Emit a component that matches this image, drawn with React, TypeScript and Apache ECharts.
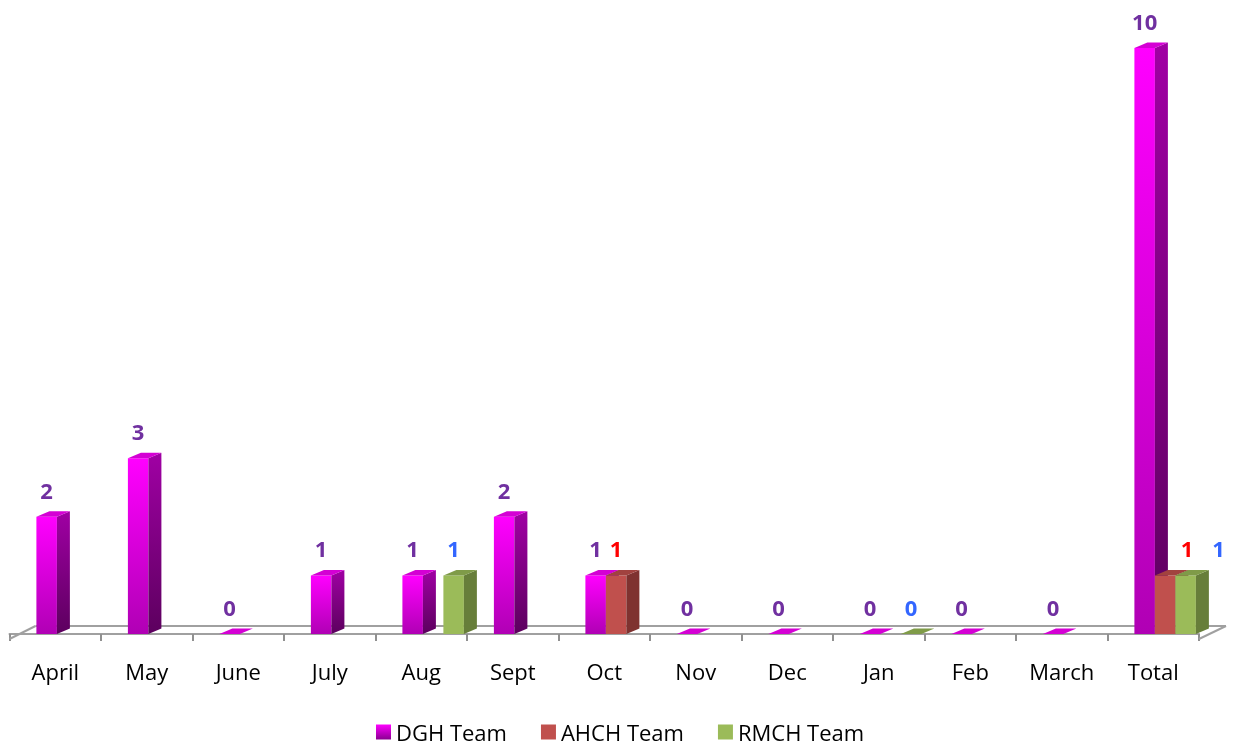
import React, { useEffect, useRef } from "react";
import * as echarts from "echarts";

const categories = ["April", "May", "June", "July", "Aug", "Sept", "Oct", "Nov", "Dec", "Jan", "Feb", "March", "Total"];
const dghValues: (number | null)[] = [2, 3, 0, 1, 1, 2, 1, 0, 0, 0, 0, 0, 10];
const ahchValues: (number | null)[] = [null, null, null, null, null, null, 1, null, null, null, null, null, 1];
const rmchValues: (number | null)[] = [null, null, null, null, 1, null, null, null, null, 0, null, null, 1];
const seriesNames = ["DGH Team", "AHCH Team", "RMCH Team"];

const FONT = "'Open Sans', 'Noto Sans', sans-serif";
const DX = 13;
const DY = 5.5;

const grad = (a: string, b: string) =>
  new echarts.graphic.LinearGradient(0, 0, 0, 1, [
    { offset: 0, color: a },
    { offset: 1, color: b },
  ]);

const styles = [
  {
    front: () => grad("#FF00FF", "#B000B4"),
    side: () => grad("#A000A4", "#5C005E"),
    top: "#D400D4",
    label: "#7030A0",
    legend: () => grad("#FF00FF", "#8A0090"),
  },
  {
    front: () => "#C0504D",
    side: () => "#7F3230",
    top: "#A1423F",
    label: "#FF0000",
    legend: () => "#C0504D",
  },
  {
    front: () => "#9BBB59",
    side: () => "#677E3A",
    top: "#7F9B48",
    label: "#3366FF",
    legend: () => "#9BBB59",
  },
];

const toData = (arr: (number | null)[]) =>
  arr.map((v, i) => (v == null ? null : [i, v])).filter((d) => d !== null) as number[][];

function makeRender(slot: number) {
  const st = styles[slot];
  return (params: any, api: any) => {
    const idx = api.value(0);
    const val = api.value(1);
    const base = api.coord([idx, 0]);
    const top = api.coord([idx, val]);
    const catW = api.size([1, 0])[0];
    const bw = catW * 0.224;
    const left = base[0] + catW * 0.13 - 1.5 * bw + slot * bw;
    const right = left + bw;
    const yT = top[1];
    const yB = base[1];
    const children: any[] = [];
    if (yB - yT > 0.5) {
      children.push({
        type: "rect",
        shape: { x: left, y: yT, width: bw, height: yB - yT },
        style: { fill: st.front() },
      });
      children.push({
        type: "polygon",
        shape: {
          points: [
            [right, yT],
            [right + DX, yT - DY],
            [right + DX, yB - DY],
            [right, yB],
          ],
        },
        style: { fill: st.side() },
      });
    }
    children.push({
      type: "polygon",
      shape: {
        points: [
          [left, yT],
          [left + DX, yT - DY],
          [right + DX, yT - DY],
          [right, yT],
        ],
      },
      style: { fill: st.top },
    });
    const isTotal = idx === categories.length - 1;
    const shift = isTotal ? (slot === 1 ? 22 : slot === 2 ? 33 : 0) : 0;
    children.push({
      type: "text",
      z2: 100,
      style: {
        text: String(val),
        x: left + bw / 2 + shift,
        y: yT - 27,
        fill: st.label,
        font: `bold 22px ${FONT}`,
        align: "center",
        verticalAlign: "middle",
      },
    });
    return { type: "group", children };
  };
}

function floorRender(params: any) {
  const cs = params.coordSys;
  const base = cs.y + cs.height;
  const c = "#A0A0A0";
  const ls = { stroke: c, lineWidth: 2 };
  return {
    type: "group",
    children: [
      { type: "line", shape: { x1: cs.x + 26, y1: base - 8, x2: cs.x + cs.width + 27, y2: base - 8 }, style: ls },
      { type: "line", shape: { x1: cs.x, y1: base + 5, x2: cs.x + 26, y2: base - 8 }, style: ls },
      { type: "line", shape: { x1: cs.x + cs.width, y1: base + 5, x2: cs.x + cs.width + 27, y2: base - 8 }, style: ls },
    ],
  };
}

export default function App() {
  const ref = useRef<HTMLDivElement>(null);
  useEffect(() => {
    if (!ref.current) return;
    const chart = echarts.init(ref.current, null, { renderer: "svg" });
    const seriesData = [dghValues, ahchValues, rmchValues];
    chart.setOption({
      animation: false,
      grid: { left: 9.5, right: 36, top: 18.7, bottom: 113 },
      xAxis: {
        type: "category",
        data: categories,
        boundaryGap: true,
        offset: 5,
        axisLine: { show: true, lineStyle: { color: "#A0A0A0", width: 2 } },
        axisTick: { show: true, length: 7, lineStyle: { color: "#909090", width: 2 } },
        axisLabel: { fontSize: 22, fontFamily: FONT, color: "#000", margin: 21 },
        splitLine: { show: false },
      },
      yAxis: { type: "value", min: 0, max: 10.5, show: false },
      legend: {
        left: 376,
        top: 720,
        padding: 0,
        itemWidth: 15,
        itemHeight: 15,
        itemGap: 34,
        icon: "rect",
        textStyle: { fontSize: 22, fontFamily: FONT, color: "#000", lineHeight: 24 },
        data: seriesNames.map((n, i) => ({ name: n, itemStyle: { color: styles[i].legend() } })),
      },
      series: [
        {
          type: "custom",
          name: "floor",
          data: [[0, 0]],
          renderItem: floorRender,
          encode: { x: 0, y: 1 },
          silent: true,
          clip: false,
          z: 1,
        },
        ...seriesData.map((arr, i) => ({
          type: "custom",
          name: seriesNames[i],
          data: toData(arr),
          renderItem: makeRender(i),
          encode: { x: 0, y: 1 },
          itemStyle: { color: styles[i].legend() },
          clip: false,
          z: 2 + i,
        })),
      ],
    });
    return () => chart.dispose();
  }, []);
  return <div ref={ref} style={{ position: "fixed", left: 0, top: 0, width: 1235, height: 747 }} />;
}
